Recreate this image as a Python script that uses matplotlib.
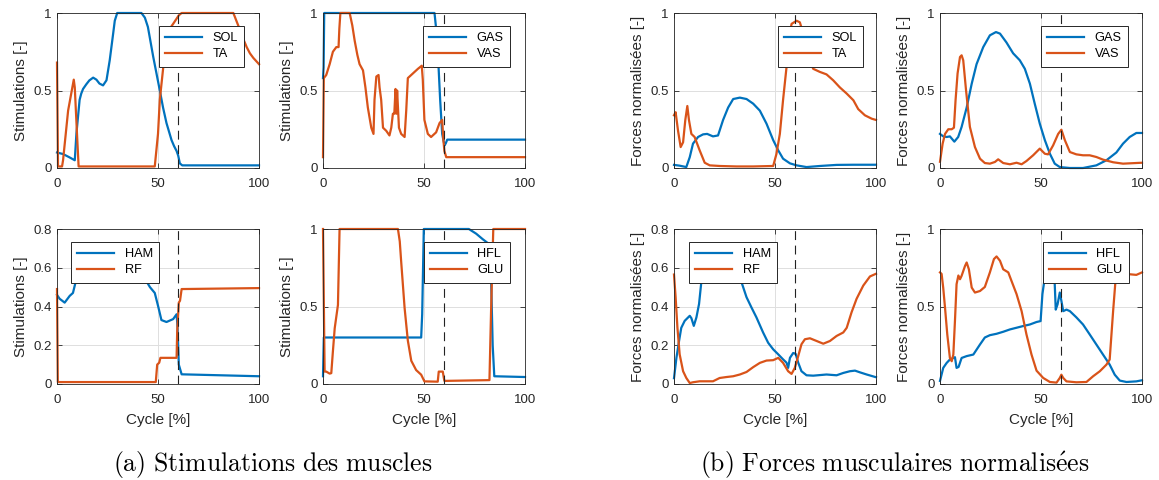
import matplotlib
matplotlib.use("Agg")
import matplotlib.pyplot as plt

plt.rcParams['font.family'] = ['Liberation Sans', 'DejaVu Sans']
plt.rcParams['mathtext.fontset'] = 'cm'

BLUE = '#0072BD'
ORANGE = '#D95319'

# ---------------- (a) muscle stimulations ----------------
sol_stim_x = [0, 3, 6, 8.8, 9.6, 11.2, 12, 12.9, 14.5, 16, 17.9, 19.5, 21, 22.8, 24.5, 26.1, 27.8, 28.6, 29.8,
              41.8, 43.5, 45, 47.6, 50.9, 52.5, 54.2, 56.7, 58, 59.2, 60, 60.8, 62, 100]
sol_stim_y = [0.10, 0.09, 0.07, 0.05, 0.22, 0.44, 0.48, 0.51, 0.54, 0.565, 0.583, 0.57, 0.545, 0.533, 0.566, 0.695,
              0.867, 0.95, 1.0, 1.0, 0.97, 0.91, 0.72, 0.5, 0.39, 0.29, 0.18, 0.14, 0.11, 0.08, 0.03, 0.017, 0.017]
ta_stim_x = [0, 0.5, 2.5, 3.0, 5.5, 8.3, 8.8, 9.9, 10.7, 48.4, 50.0, 50.9, 52.6, 54.2, 55.9, 57.5, 60.3,
             61.7, 87.3, 88.5, 90.6, 92.3, 93.9, 95.5, 97.2, 100]
ta_stim_y = [0.68, 0.01, 0.01, 0.05, 0.37, 0.57, 0.52, 0.22, 0.01, 0.01, 0.22, 0.44, 0.65, 0.82, 0.90, 0.93,
             0.985, 1.0, 1.0, 0.96, 0.89, 0.83, 0.78, 0.74, 0.71, 0.67]

gas_stim_x = [0, 0.3, 0.6, 55.2, 56, 56.8, 58, 59, 59.6, 60.2, 60.8, 61.5, 100]
gas_stim_y = [0.58, 0.65, 1.0, 1.0, 0.9, 0.76, 0.44, 0.22, 0.18, 0.146, 0.16, 0.183, 0.183]
vas_stim_x = [0, 0.4, 1.6, 3.3, 4.9, 6.6, 7.7, 8.1, 8.6, 13.2, 14.5, 15.7, 17, 18.1, 19.8, 21, 22.2, 23.9, 25,
              25.5, 26.4, 27.5, 28, 28.8, 29.7, 31.3, 32.9, 33.8, 34.6, 35.3, 35.9, 36.3, 36.7, 37.6, 38.7, 40.4,
              41.2, 42, 44.5, 47, 48.9, 49.4, 50.2, 51.9, 53.5, 56, 57.7, 59, 59.6, 60.1, 61, 100]
vas_stim_y = [0.07, 0.58, 0.6, 0.67, 0.75, 0.78, 0.78, 0.9, 1.0, 1.0, 0.92, 0.82, 0.73, 0.67, 0.63, 0.52, 0.39,
              0.26, 0.22, 0.44, 0.59, 0.6, 0.52, 0.44, 0.26, 0.24, 0.21, 0.26, 0.35, 0.35, 0.51, 0.35, 0.5, 0.26,
              0.22, 0.2, 0.37, 0.58, 0.61, 0.64, 0.66, 0.57, 0.31, 0.22, 0.2, 0.23, 0.29, 0.31, 0.18, 0.11, 0.07,
              0.07]

ham_stim_x = [0, 1.3, 3.8, 6.3, 7.9, 9.3, 12, 16, 20, 25, 30, 35, 40, 44.3, 46, 48.4, 50.1, 51.7, 54.2, 57.5,
              59.2, 59.7, 60.3, 61.7, 100]
ham_stim_y = [0.46, 0.44, 0.42, 0.455, 0.47, 0.53, 0.6, 0.64, 0.66, 0.67, 0.66, 0.63, 0.59, 0.53, 0.5, 0.47,
              0.4, 0.33, 0.32, 0.335, 0.36, 0.29, 0.1, 0.05, 0.04]
rf_stim_x = [0, 0.4, 48.9, 49.6, 50.6, 51.2, 59.2, 59.5, 60.3, 60.9, 61.7, 100]
rf_stim_y = [0.49, 0.01, 0.01, 0.1, 0.11, 0.135, 0.135, 0.27, 0.42, 0.43, 0.49, 0.495]

hfl_stim_x = [0, 0.4, 48.6, 49.1, 49.9, 72.2, 75.8, 79, 81.5, 83.2, 84, 84.8, 100]
hfl_stim_y = [0.05, 0.3, 0.3, 0.45, 1.0, 1.0, 0.97, 0.935, 0.91, 0.69, 0.25, 0.05, 0.045]
glu_stim_x = [0, 0.8, 1.6, 3.3, 4.1, 4.9, 5.8, 7.4, 8.2, 37.1, 38, 38.7, 40.4, 42, 43.7, 46.1, 48.6, 50.2,
              56.8, 57.3, 59.3, 59.8, 60.1, 82.4, 83.2, 84.3, 100]
glu_stim_y = [1.0, 0.08, 0.08, 0.067, 0.07, 0.21, 0.36, 0.51, 1.0, 1.0, 0.92, 0.79, 0.49, 0.28, 0.15, 0.09,
              0.06, 0.017, 0.015, 0.08, 0.08, 0.04, 0.02, 0.025, 0.47, 1.0, 1.0]

# ---------------- (b) normalised muscle forces ----------------
sol_force_x = [0, 2.8, 6.1, 7.8, 9.4, 11.9, 14.4, 16.4, 19.3, 21.8, 24.3, 26.8, 29.3, 32.6, 35.9, 39.2, 42.5,
               45.8, 49.1, 51.6, 54, 57.4, 60.7, 65.6, 72.2, 80.5, 88.8, 100]
sol_force_y = [0.02, 0.015, 0.006, 0.07, 0.157, 0.2, 0.217, 0.22, 0.204, 0.21, 0.31, 0.39, 0.445, 0.454, 0.445,
               0.415, 0.37, 0.286, 0.18, 0.114, 0.06, 0.03, 0.017, 0.006, 0.013, 0.02, 0.021, 0.021]
ta_force_x = [0, 0.8, 2, 3.3, 4.5, 5.6, 6.6, 7.4, 8.6, 10.2, 12.7, 15.2, 17.7, 22.6, 30.9, 39.2, 49.1, 50.7,
              52.4, 54, 55.7, 57, 58.2, 60.7, 62.3, 63, 65, 67, 68.9, 72.2, 75.5, 78.8, 82.1, 85.5, 88.8, 91.2,
              94.5, 97.9, 100]
ta_force_y = [0.34, 0.36, 0.24, 0.135, 0.166, 0.31, 0.40, 0.31, 0.22, 0.2, 0.114, 0.034, 0.017, 0.013, 0.01,
              0.01, 0.013, 0.09, 0.22, 0.44, 0.65, 0.845, 0.93, 0.95, 0.94, 0.91, 0.8, 0.7, 0.64, 0.62, 0.604,
              0.566, 0.52, 0.48, 0.437, 0.38, 0.34, 0.318, 0.31]

gas_force_x = [0, 1.6, 3.3, 4.9, 7.1, 9, 10.7, 13.2, 15.7, 18.1, 21.4, 24.7, 27.7, 29.7, 32.9, 36.2, 39.5, 42,
               44.5, 46.9, 49.4, 51.9, 54.4, 56.8, 59.3, 64.3, 70.8, 77.4, 82.4, 87.3, 90.6, 93.9, 97.2, 100]
gas_force_y = [0.22, 0.204, 0.2, 0.204, 0.17, 0.2, 0.265, 0.39, 0.544, 0.67, 0.78, 0.856, 0.877, 0.867, 0.81,
               0.74, 0.695, 0.64, 0.544, 0.415, 0.286, 0.18, 0.092, 0.028, 0.006, 0.0, 0.0, 0.017, 0.05, 0.1,
               0.157, 0.2, 0.226, 0.226]
vas_force_x = [0, 1.3, 2.5, 4.1, 5.8, 6.9, 7.7, 8.7, 9.9, 10.7, 11.5, 12.9, 14.8, 17.3, 19.8, 22.2, 24.7, 27.2,
               28.8, 31.3, 34.6, 37.9, 40.4, 42.8, 46.1, 49.4, 51.9, 53.5, 56, 58.5, 60.1, 61.8, 64.3, 67.5,
               70.8, 74.1, 77.4, 80.7, 85.7, 90.6, 100]
vas_force_y = [0.04, 0.157, 0.22, 0.25, 0.25, 0.26, 0.437, 0.61, 0.716, 0.727, 0.695, 0.5, 0.265, 0.135, 0.06,
               0.032, 0.028, 0.039, 0.056, 0.032, 0.024, 0.034, 0.024, 0.045, 0.082, 0.125, 0.092, 0.088, 0.146,
               0.22, 0.247, 0.18, 0.103, 0.088, 0.082, 0.082, 0.071, 0.054, 0.037, 0.028, 0.034]

ham_force_x = [0, 1.2, 2.5, 3.6, 5.3, 7.8, 8.6, 9.8, 11.1, 12.4, 13.6, 16, 19, 22, 25, 28, 31, 33.4, 35.9,
               38.3, 40.8, 44.1, 46.6, 49.1, 51.6, 54, 55.7, 56.5, 57.4, 59, 60.2, 61.5, 63.1, 65.6, 68.9, 75.5,
               80.5, 83.8, 87.1, 89.6, 92.1, 95.4, 100]
ham_force_y = [0.03, 0.135, 0.222, 0.29, 0.326, 0.352, 0.34, 0.3, 0.344, 0.413, 0.534, 0.62, 0.66, 0.67, 0.665,
               0.64, 0.59, 0.526, 0.448, 0.396, 0.344, 0.266, 0.213, 0.179, 0.153, 0.127, 0.11, 0.083, 0.135,
               0.16, 0.156, 0.11, 0.066, 0.045, 0.043, 0.049, 0.045, 0.057, 0.066, 0.069, 0.06, 0.049, 0.035]
rf_force_x = [0, 0.8, 1.7, 2.8, 4.5, 6.1, 7.8, 9.4, 12.7, 16, 19.3, 22.6, 26, 29.3, 32.6, 35.9, 39.2, 42.5,
              45.8, 49.1, 51.6, 54, 56.5, 58.2, 59.8, 61.5, 63.1, 64.8, 67.3, 70.6, 73.9, 77.2, 80.5, 83.8, 85.5,
              87.9, 90.4, 93.7, 97, 100]
rf_force_y = [0.565, 0.448, 0.29, 0.153, 0.066, 0.031, 0.005, 0.009, 0.014, 0.014, 0.014, 0.031, 0.036, 0.04,
              0.049, 0.062, 0.087, 0.109, 0.121, 0.123, 0.135, 0.109, 0.066, 0.052, 0.083, 0.144, 0.205, 0.231,
              0.236, 0.222, 0.208, 0.222, 0.248, 0.266, 0.29, 0.37, 0.44, 0.508, 0.555, 0.569]

hfl_force_x = [0, 1.6, 3.3, 4.9, 7.4, 8.2, 9.2, 10.7, 13.2, 16.5, 19.8, 22.2, 24.7, 28, 31.3, 34.6, 37.9, 41.2,
               44.5, 47.8, 49.8, 50.7, 51.9, 53, 54.2, 55.5, 56.8, 57.3, 58.2, 59.3, 60.1, 61, 62.6, 64.3, 67.5,
               70.8, 74.1, 77.4, 80.7, 84, 86.5, 89, 92.3, 97.2, 100]
hfl_force_y = [0.02, 0.104, 0.136, 0.158, 0.173, 0.104, 0.11, 0.168, 0.18, 0.19, 0.255, 0.3, 0.315, 0.324,
               0.337, 0.352, 0.363, 0.374, 0.384, 0.4, 0.406, 0.58, 0.69, 0.8, 0.84, 0.78, 0.644, 0.48, 0.514,
               0.59, 0.536, 0.47, 0.48, 0.47, 0.43, 0.384, 0.32, 0.255, 0.19, 0.125, 0.06, 0.022, 0.013, 0.017,
               0.024]
glu_force_x = [0, 0.8, 1.6, 2.5, 3.6, 4.9, 5.8, 6.6, 7.4, 8.2, 9.1, 9.9, 10.7, 12.4, 13.2, 14.3, 15.7, 17.3,
               19.8, 22.2, 24.7, 26.7, 28, 29.7, 31.3, 33.8, 35.4, 37.9, 40.4, 42.8, 45.3, 47.8, 51.1, 54.4, 57.7,
               59.3, 60.1, 61, 62.6, 67.5, 72.5, 75.8, 79.1, 82.4, 84, 85.7, 87, 93.9, 97.2, 100]
glu_force_y = [0.72, 0.71, 0.62, 0.49, 0.32, 0.168, 0.147, 0.19, 0.406, 0.644, 0.7, 0.676, 0.698, 0.762, 0.784,
               0.74, 0.622, 0.59, 0.6, 0.626, 0.72, 0.806, 0.823, 0.795, 0.74, 0.72, 0.665, 0.58, 0.47, 0.32,
               0.19, 0.086, 0.039, 0.013, 0.009, 0.039, 0.06, 0.039, 0.017, 0.011, 0.013, 0.05, 0.082, 0.125,
               0.158, 0.47, 0.687, 0.708, 0.704, 0.72]

x_ticks = [0, 50, 100]
x_ticklabels = ['0', '50', '100']
y_ticks_unit = [0, 0.5, 1]
y_ticklabels_unit = ['0', '0.5', '1']
y_ticks_08 = [0, 0.2, 0.4, 0.6, 0.8]
y_ticklabels_08 = ['0', '0.2', '0.4', '0.6', '0.8']
swing_onset = 60

stim_label = 'Stimulations [-]'
force_label = 'Forces normalisées [-]'
x_label = 'Cycle [%]'
caption_a = r'$\mathrm{(a)\ Stimulations\ des\ muscles}$'
caption_b = r'$\mathrm{(b)\ Forces\ musculaires\ normalis\acute{e}es}$'

# panel spec: (col, row, series, labels, ylabel, y-scale, legend anchor)
panels = [
    (0, 0, [(sol_stim_x, sol_stim_y), (ta_stim_x, ta_stim_y)], ['SOL', 'TA'], stim_label, 'unit', ('ur', 0.926)),
    (1, 0, [(gas_stim_x, gas_stim_y), (vas_stim_x, vas_stim_y)], ['GAS', 'VAS'], stim_label, 'unit', ('ur', 0.926)),
    (0, 1, [(ham_stim_x, ham_stim_y), (rf_stim_x, rf_stim_y)], ['HAM', 'RF'], stim_label, '08', ('ul', 0.069)),
    (1, 1, [(hfl_stim_x, hfl_stim_y), (glu_stim_x, glu_stim_y)], ['HFL', 'GLU'], stim_label, 'unit', ('ur', 0.926)),
    (2, 0, [(sol_force_x, sol_force_y), (ta_force_x, ta_force_y)], ['SOL', 'TA'], force_label, 'unit', ('ur', 0.936)),
    (3, 0, [(gas_force_x, gas_force_y), (vas_force_x, vas_force_y)], ['GAS', 'VAS'], force_label, 'unit', ('ur', 0.93)),
    (2, 1, [(ham_force_x, ham_force_y), (rf_force_x, rf_force_y)], ['HAM', 'RF'], force_label, '08', ('ul', 0.074)),
    (3, 1, [(hfl_force_x, hfl_force_y), (glu_force_x, glu_force_y)], ['HFL', 'GLU'], force_label, 'unit', ('ur', 0.935)),
]

W, H = 1159, 480
fig = plt.figure(figsize=(W / 100, H / 100), dpi=100)

col_left = [57, 323, 674, 940]
ax_w = 202
row_top = [13, 229]
ax_h = 155

AX_COL = '#262626'

for col, row, series, labels, ylabel, ymode, (lpos, lx) in panels:
    left = col_left[col] / W
    bottom = (H - row_top[row] - ax_h) / H
    ax = fig.add_axes([left, bottom, ax_w / W, ax_h / H])
    for (xs, ys), lab, c in zip(series, labels, [BLUE, ORANGE]):
        ax.plot(xs, ys, color=c, lw=1.6, label=lab, solid_joinstyle='round', clip_on=False)
    ax.axvline(swing_onset, color='#222222', lw=0.8, ls=(0, (8, 5)))
    ax.set_xlim(0, 100)
    ax.set_xticks(x_ticks)
    ax.set_xticklabels(x_ticklabels)
    if ymode == 'unit':
        ax.set_ylim(0, 1)
        ax.set_yticks(y_ticks_unit)
        ax.set_yticklabels(y_ticklabels_unit)
    else:
        ax.set_ylim(0, 0.8)
        ax.set_yticks(y_ticks_08)
        ax.set_yticklabels(y_ticklabels_08)
    ax.set_axisbelow(True)
    ax.grid(True, color='#dedede', lw=0.7)
    ax.tick_params(direction='in', top=True, right=True, length=3.5, width=0.6,
                   labelsize=9.5, colors=AX_COL)
    ax.tick_params(axis='x', pad=7)
    ax.tick_params(axis='y', pad=4)
    for sp in ax.spines.values():
        sp.set_color(AX_COL)
        sp.set_linewidth(0.6)
    ax.set_ylabel(ylabel, fontsize=11, color=AX_COL, labelpad=4)
    if row == 1:
        ax.set_xlabel(x_label, fontsize=11, color=AX_COL, labelpad=5)
    if lpos == 'ur':
        loc, anchor = 'upper right', (lx, 0.916)
    else:
        loc, anchor = 'upper left', (lx, 0.916)
    leg = ax.legend(loc=loc, bbox_to_anchor=anchor, borderaxespad=0, fontsize=9.2,
                    handlelength=2.9, handletextpad=0.8, borderpad=0.5, labelspacing=0.3,
                    fancybox=False, framealpha=1, edgecolor='#262626')
    leg.get_frame().set_linewidth(0.7)
    leg.set_zorder(5)

fig.text(272.5 / W, 1 - 465 / H, caption_a, fontsize=18.5, ha='center', va='center')
fig.text(895 / W, 1 - 465 / H, caption_b, fontsize=18.5, ha='center', va='center')

fig.savefig('out.png', dpi=100, facecolor='white')
